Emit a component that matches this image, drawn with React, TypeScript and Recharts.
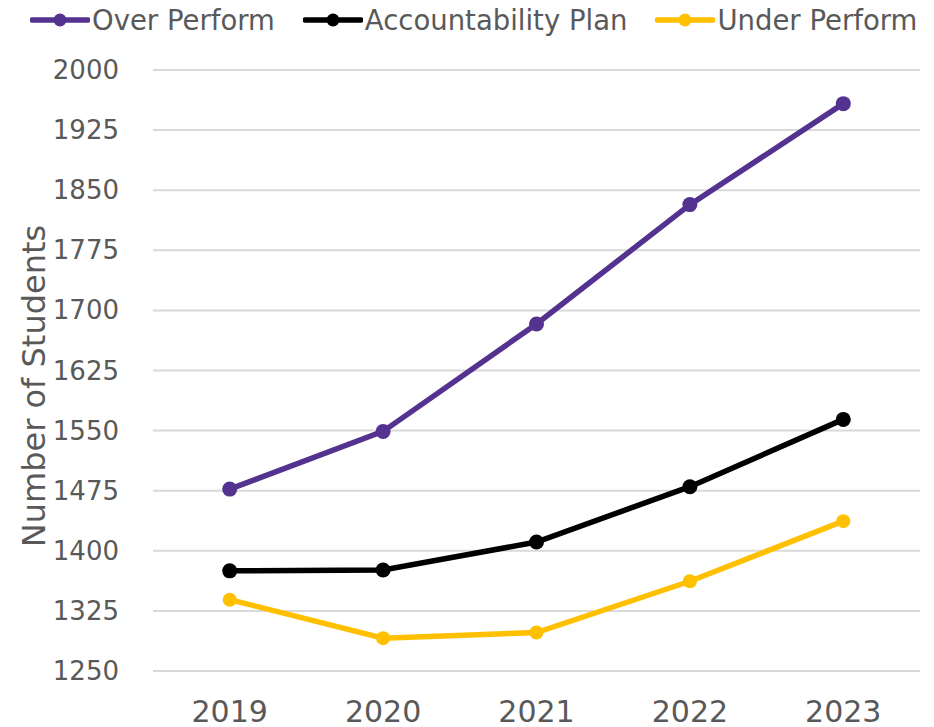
import React from "react";
import { LineChart, Line, XAxis, YAxis, CartesianGrid } from "recharts";

const years = ["2019", "2020", "2021", "2022", "2023"];
const overPerform = [1477, 1549, 1683, 1832, 1958];
const accountabilityPlan = [1375, 1376, 1411, 1480, 1564];
const underPerform = [1339, 1291, 1298, 1362, 1437];
const yTicks = [1250, 1325, 1400, 1475, 1550, 1625, 1700, 1775, 1850, 1925, 2000];
const seriesNames = ["Over Perform", "Accountability Plan", "Under Perform"];

const data = years.map((y, i) => ({
  year: y,
  over: overPerform[i],
  acc: accountabilityPlan[i],
  under: underPerform[i],
}));

const series = [
  { key: "over", name: seriesNames[0], color: "#54328F", r: 7.5 },
  { key: "acc", name: seriesNames[1], color: "#000000", r: 7.5 },
  { key: "under", name: seriesNames[2], color: "#FFC000", r: 7 },
];

const FONT = "'DejaVu Sans', Verdana, sans-serif";
const TEXT = "#595959";

const LegendBox = () => (
  <div style={{ position: "absolute", top: 2, left: 30, display: "flex", alignItems: "center", fontFamily: FONT, fontSize: 27.5, color: TEXT, whiteSpace: "nowrap", lineHeight: "36px" }}>
    {series.map((s, i) => (
      <div key={s.key} style={{ display: "flex", alignItems: "center", marginRight: i < 2 ? 28 : 0 }}>
        <svg width={60} height={18} style={{ marginRight: 2 }}>
          <line x1={2} y1={9} x2={58} y2={9} stroke={s.color} strokeWidth={5.5} strokeLinecap="round" />
          <circle cx={30} cy={9} r={6.5} fill={s.color} />
        </svg>
        <span>{s.name}</span>
      </div>
    ))}
  </div>
);

const XTick = (props: any) => {
  const { x, y, payload } = props;
  return (
    <text x={x} y={y} dy={32} textAnchor="middle" dominantBaseline="central" fontFamily={FONT} fontSize={30} fill={TEXT}>
      {payload.value}
    </text>
  );
};

const YTick = (props: any) => {
  const { x, y, payload } = props;
  return (
    <text x={x} y={y} dx={-26} textAnchor="end" dominantBaseline="central" fontFamily={FONT} fontSize={26} fill={TEXT}>
      {payload.value}
    </text>
  );
};

const YLabel = () => (
  <text x={34} y={386} transform="rotate(-90 34 386)" textAnchor="middle" dominantBaseline="central" fontFamily={FONT} fontSize={32} fill={TEXT}>
    Number of Students
  </text>
);

export default function App() {
  return (
    <div style={{ position: "absolute", left: 0, top: 0, width: 934, height: 727, background: "#fff" }}>
      <LineChart width={934} height={727} data={data} margin={{ top: 70, right: 14, left: 0, bottom: 26 }}>
        <CartesianGrid vertical={false} stroke="#d9d9d9" strokeWidth={2} />
        <XAxis
          dataKey="year"
          height={30}
          axisLine={false}
          tickLine={false}
          tick={<XTick />}
          padding={{ left: 76.7, right: 76.7 }}
          interval={0}
        />
        <YAxis
          width={153}
          domain={[1250, 2000]}
          ticks={yTicks}
          axisLine={false}
          tickLine={false}
          tick={<YTick />}
          interval={0}
          label={{ content: <YLabel /> }}
        />
        {series.map((s) => (
          <Line
            key={s.key}
            type="linear"
            dataKey={s.key}
            name={s.name}
            stroke={s.color}
            strokeWidth={5.5}
            dot={{ r: s.r, fill: s.color, stroke: s.color, strokeWidth: 0 }}
            isAnimationActive={false}
          />
        ))}
      </LineChart>
      <LegendBox />
    </div>
  );
}
